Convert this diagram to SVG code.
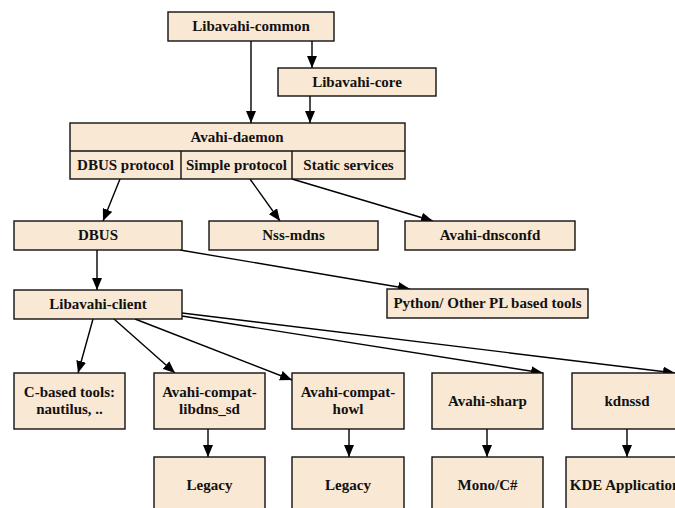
<svg xmlns="http://www.w3.org/2000/svg" width="675" height="508" viewBox="0 0 675 508">
<style>
.n rect{fill:#f9e8d3;stroke:#111;stroke-width:1.4}
.n line{stroke:#111;stroke-width:1.4}
text{font-family:'Liberation Serif','DejaVu Serif','Times New Roman',serif;font-weight:bold;font-size:15px;fill:#111;text-anchor:middle}
#edges line{stroke:#000;stroke-width:1.4;marker-end:url(#ah)}
</style>
<defs>
<marker id="ah" viewBox="0 0 12 10" refX="12" refY="5" markerWidth="12" markerHeight="10" markerUnits="userSpaceOnUse" orient="auto">
<path d="M0,0L12,5L0,10Z" fill="#000"/>
</marker>
</defs>
<rect width="675" height="508" fill="#fff"/>
<g id="edges">
<line x1="251" y1="41" x2="251" y2="123"/>
<line x1="312" y1="41" x2="312" y2="68"/>
<line x1="310" y1="96" x2="310" y2="123"/>
<line x1="120" y1="179" x2="103" y2="221"/>
<line x1="250" y1="179" x2="280" y2="221"/>
<line x1="292" y1="179" x2="433" y2="221"/>
<line x1="97" y1="250" x2="97" y2="290"/>
<line x1="180" y1="250" x2="410" y2="289"/>
<line x1="93" y1="319" x2="78" y2="373"/>
<line x1="114" y1="319" x2="175" y2="373"/>
<line x1="135" y1="319" x2="292" y2="380"/>
<line x1="182" y1="316" x2="543" y2="373"/>
<line x1="182" y1="313" x2="675" y2="373"/>
<line x1="208" y1="429" x2="208" y2="457"/>
<line x1="349" y1="429" x2="349" y2="457"/>
<line x1="487" y1="429" x2="487" y2="457"/>
<line x1="627" y1="429" x2="627" y2="457"/>
</g>
<g id="libavahi-common" class="n"><rect x="168" y="12" width="166" height="29"/><text x="251" y="31">Libavahi-common</text></g>
<g id="libavahi-core" class="n"><rect x="278" y="68" width="158" height="28"/><text x="357" y="87">Libavahi-core</text></g>
<g id="avahi-daemon" class="n">
<rect x="70" y="123" width="335" height="56"/>
<line x1="70" y1="151" x2="405" y2="151"/>
<line x1="181" y1="151" x2="181" y2="179"/>
<line x1="292" y1="151" x2="292" y2="179"/>
<text x="237" y="142">Avahi-daemon</text>
<text x="125.5" y="170">DBUS protocol</text>
<text x="236.5" y="170">Simple protocol</text>
<text x="348.5" y="170">Static services</text>
</g>
<g id="dbus" class="n"><rect x="14" y="221" width="168" height="29"/><text x="98" y="240">DBUS</text></g>
<g id="nss-mdns" class="n"><rect x="209" y="221" width="169" height="29"/><text x="293.5" y="240">Nss-mdns</text></g>
<g id="avahi-dnsconfd" class="n"><rect x="405" y="221" width="170" height="29"/><text x="490" y="240">Avahi-dnsconfd</text></g>
<g id="libavahi-client" class="n"><rect x="14" y="290" width="168" height="29"/><text x="98" y="309">Libavahi-client</text></g>
<g id="python" class="n"><rect x="387" y="289" width="201" height="29"/><text x="487.5" y="308">Python/ Other PL based tools</text></g>
<g id="c-based" class="n"><rect x="14" y="373" width="111" height="56"/><text x="69.5" y="397">C-based tools:</text><text x="69.5" y="414">nautilus, ..</text></g>
<g id="compat-libdns" class="n"><rect x="154" y="373" width="111" height="56"/><text x="209.5" y="397">Avahi-compat-</text><text x="209.5" y="414">libdns_sd</text></g>
<g id="compat-howl" class="n"><rect x="292" y="373" width="112" height="56"/><text x="348" y="397">Avahi-compat-</text><text x="348" y="414">howl</text></g>
<g id="avahi-sharp" class="n"><rect x="432" y="373" width="111" height="56"/><text x="487.5" y="406">Avahi-sharp</text></g>
<g id="kdnssd" class="n"><rect x="572" y="373" width="110" height="56"/><text x="627" y="406">kdnssd</text></g>
<g id="legacy1" class="n"><rect x="154" y="457" width="111" height="58"/><text x="209.5" y="490">Legacy</text></g>
<g id="legacy2" class="n"><rect x="292" y="457" width="112" height="58"/><text x="348" y="490">Legacy</text></g>
<g id="mono" class="n"><rect x="432" y="457" width="111" height="58"/><text x="487.5" y="490">Mono/C#</text></g>
<g id="kde" class="n"><rect x="566" y="457" width="124" height="58"/><text x="628" y="490">KDE Applications</text></g>
</svg>
